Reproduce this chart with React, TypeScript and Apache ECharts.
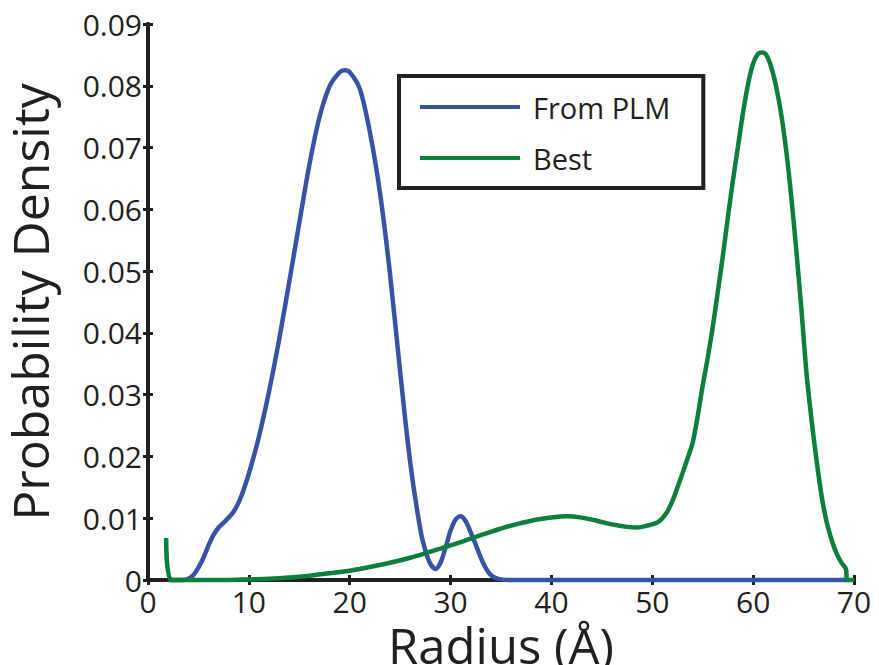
import React, { useEffect, useRef } from "react";
import * as echarts from "echarts";

const xTicks = [0, 10, 20, 30, 40, 50, 60, 70];
const yTicks = [0, 0.01, 0.02, 0.03, 0.04, 0.05, 0.06, 0.07, 0.08, 0.09];

const seriesNames = ["From PLM", "Best"];

const plmX = [2, 3.5, 4, 4.5, 5, 5.5, 6, 6.5, 7, 7.5, 8, 8.5, 9, 9.5, 10, 11, 12, 13, 14, 15, 16, 17, 18, 19, 19.5, 20, 21, 22, 23, 24, 25, 26, 27, 27.5, 28, 28.5, 29, 29.5, 30, 30.5, 31, 31.5, 32, 32.5, 33, 33.5, 34, 34.5, 35, 36, 69.3];
const plmY = [0, 0, 0.0002, 0.0008, 0.002, 0.0036, 0.0056, 0.0073, 0.0085, 0.0093, 0.0101, 0.0111, 0.0126, 0.0147, 0.0172, 0.0232, 0.0305, 0.0389, 0.0482, 0.0578, 0.0672, 0.0749, 0.0799, 0.0822, 0.0825, 0.0822, 0.0795, 0.0725, 0.0627, 0.0495, 0.0337, 0.019, 0.0082, 0.0048, 0.0026, 0.0018, 0.0028, 0.0052, 0.008, 0.0098, 0.0103, 0.0095, 0.0077, 0.0057, 0.0036, 0.0019, 0.0008, 0.0003, 0.0001, 0, 0];

const bestX = [1.8, 2.3, 5, 8, 10, 12, 14, 16, 18, 20, 22, 24, 26, 28, 30, 32, 34, 36, 38, 40, 41.5, 43, 44.5, 46, 47.5, 48.5, 49.5, 50.5, 51, 51.5, 52, 52.5, 53, 53.5, 54, 54.5, 55, 55.5, 56, 56.5, 57, 57.5, 58, 58.5, 59, 59.5, 60, 60.5, 60.9, 61.3, 61.8, 62.3, 62.8, 63.3, 63.8, 64.3, 64.8, 65.3, 65.8, 66.3, 66.8, 67.3, 67.8, 68.3, 68.8, 69.2, 69.35, 70];
const bestY = [0.0068, 0, 0, 0, 0.0001, 0.0002, 0.0004, 0.0007, 0.0011, 0.0015, 0.0021, 0.0028, 0.0036, 0.0046, 0.0056, 0.0067, 0.0078, 0.0088, 0.0096, 0.0101, 0.0103, 0.0101, 0.0096, 0.009, 0.0086, 0.0085, 0.0088, 0.0093, 0.01, 0.0111, 0.0128, 0.015, 0.0173, 0.0197, 0.0222, 0.0265, 0.0315, 0.036, 0.041, 0.0467, 0.0525, 0.0588, 0.0647, 0.0702, 0.0757, 0.0803, 0.0836, 0.0852, 0.0854, 0.085, 0.083, 0.0797, 0.0752, 0.0692, 0.0617, 0.053, 0.0435, 0.0333, 0.0258, 0.0192, 0.0135, 0.0093, 0.0064, 0.0042, 0.0027, 0.0018, 0, 0];

const INK = "#231f20";
const FONT = "Open Sans";
const BLUE = "#3953a4";
const GREEN = "#0b7f3c";

export default function App() {
  const ref = useRef<HTMLDivElement>(null);
  useEffect(() => {
    if (!ref.current) return;
    const chart = echarts.init(ref.current, null, { renderer: "svg" });
    const xMin = xTicks[0];
    const xMax = xTicks[xTicks.length - 1];
    const yMin = yTicks[0];
    const yMax = yTicks[yTicks.length - 1];
    const common = {
      axisLine: { show: true, lineStyle: { color: INK, width: 4 } },
      axisTick: { show: true, inside: true, length: 5, lineStyle: { color: INK, width: 3 } },
      splitLine: { show: false },
    };
    chart.setOption({
      animation: false,
      backgroundColor: "#ffffff",
      grid: { left: 148, right: 25, top: 24, bottom: 85, containLabel: false, outerBoundsMode: "none" },
      legend: {
        data: seriesNames,
        orient: "vertical",
        left: 399,
        top: 76,
        padding: [16, 33, 15, 21],
        itemGap: 21,
        itemWidth: 100,
        itemHeight: 4,
        icon: "rect",
        borderColor: INK,
        borderWidth: 4,
        backgroundColor: "#ffffff",
        textStyle: { fontFamily: FONT, fontSize: 29, color: INK, lineHeight: 30, padding: [0, 0, 0, 8] },
      },
      xAxis: [
        {
          type: "value",
          min: xMin,
          max: xMax,
          interval: 10,
          position: "bottom",
          name: "Radius (Å)",
          nameLocation: "middle",
          nameGap: 40,
          nameTextStyle: { fontFamily: FONT, fontSize: 49, color: INK, lineHeight: 36 },
          axisLabel: { fontFamily: FONT, fontSize: 30, color: INK, margin: 6, lineHeight: 30 },
          ...common,
        },
        {
          type: "value",
          min: xMin,
          max: xMax,
          interval: 10,
          position: "top",
          axisLabel: { show: false },
          ...common,
        },
      ],
      yAxis: [
        {
          type: "value",
          min: yMin,
          max: yMax,
          interval: 0.01,
          position: "left",
          name: "Probability Density",
          nameLocation: "middle",
          nameRotate: 90,
          nameGap: 97,
          nameTextStyle: { fontFamily: FONT, fontSize: 50, color: INK, lineHeight: 42 },
          axisLabel: {
            fontFamily: FONT,
            fontSize: 30,
            color: INK,
            margin: 6,
            formatter: (v: number) => (v === 0 ? "0" : v.toFixed(2)),
          },
          ...common,
        },
        {
          type: "value",
          min: yMin,
          max: yMax,
          interval: 0.01,
          position: "right",
          axisLabel: { show: false },
          ...common,
        },
      ],
      series: [
        {
          name: seriesNames[0],
          type: "line",
          data: plmX.map((x, i) => [x, plmY[i]]),
          showSymbol: false,
          symbol: "none",
          smooth: 0.3,
          clip: false,
          lineStyle: { color: BLUE, width: 4.5 },
          itemStyle: { color: BLUE },
          z: 3,
        },
        {
          name: seriesNames[1],
          type: "line",
          data: bestX.map((x, i) => [x, bestY[i]]),
          showSymbol: false,
          symbol: "none",
          smooth: 0.3,
          clip: false,
          lineStyle: { color: GREEN, width: 4.5 },
          itemStyle: { color: GREEN },
          z: 4,
        },
      ],
    });
    return () => chart.dispose();
  }, []);
  return <div ref={ref} style={{ width: 879, height: 665, position: "absolute", left: 0, top: 0 }} />;
}
